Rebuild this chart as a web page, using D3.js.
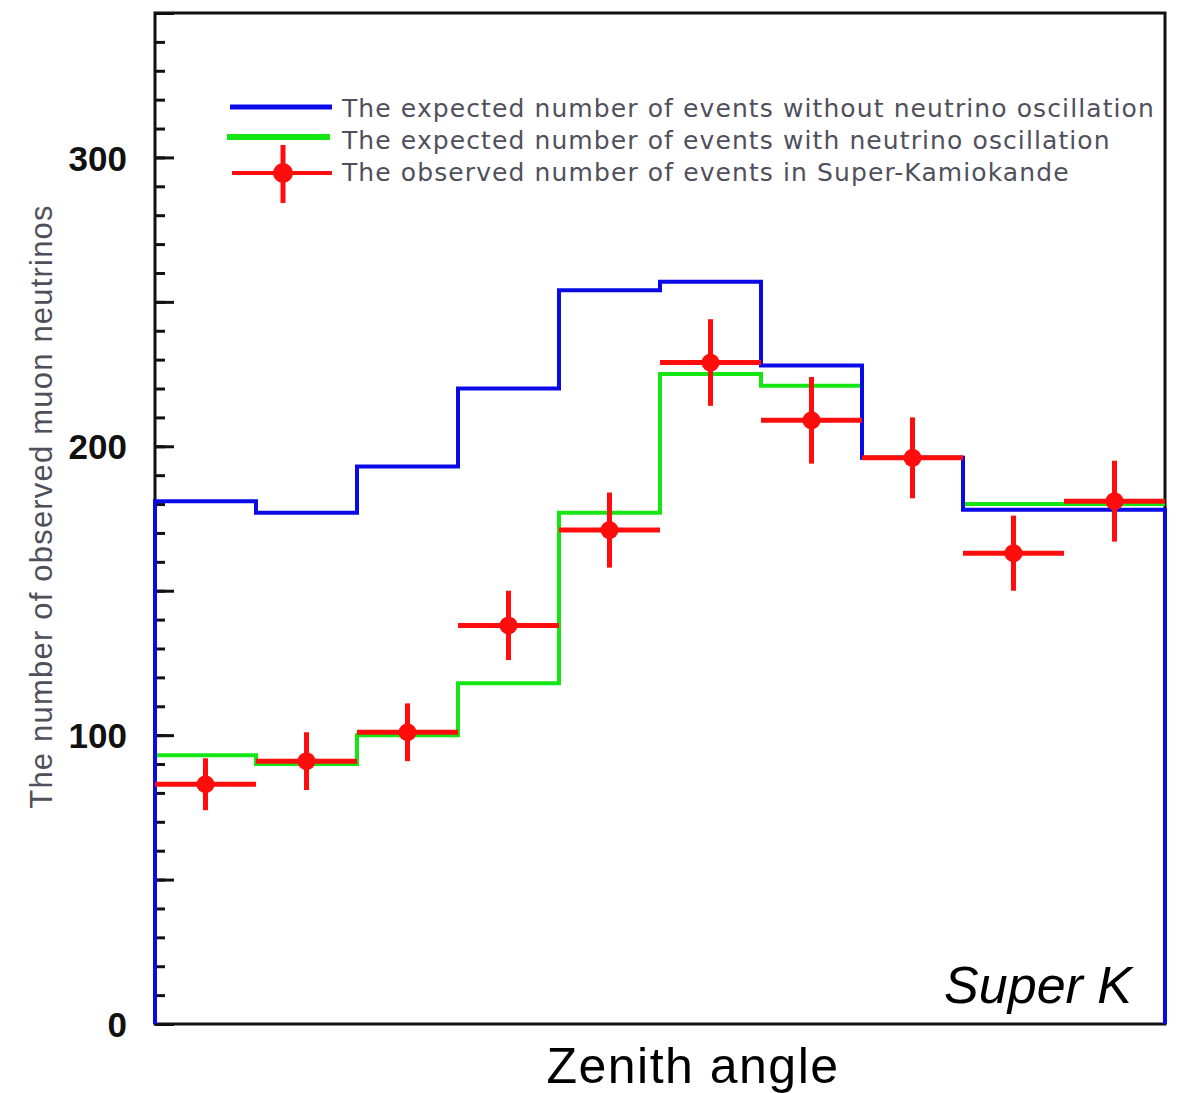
<!DOCTYPE html>
<html lang="en">
<head>
<meta charset="utf-8">
<title>Super-Kamiokande zenith angle</title>
<style type="text/css">
	body { margin: 0; background-color: white; }
	svg { display: block; }
	.ylabels text { font-family: "Liberation Sans", Arial, sans-serif; font-weight: bold; font-size: 35px; fill: #111; }
	.legend text { font-family: "DejaVu Sans", Verdana, sans-serif; font-size: 25px; letter-spacing: 1.1px; fill: #50505c; }
	.ytitle { font-family: "Liberation Sans", Arial, sans-serif; font-size: 31px; letter-spacing: 1.2px; fill: #50505c; }
	.xtitle { font-family: "Liberation Sans", Arial, sans-serif; font-size: 50px; letter-spacing: 1.5px; fill: black; }
	.tag { font-family: "Liberation Sans", Arial, sans-serif; font-style: italic; font-size: 52px; fill: black; }
</style>
</head>
<body>
<script src="https://cdnjs.cloudflare.com/ajax/libs/d3/7.8.5/d3.min.js"></script>
<script type="text/javascript">

	// bin edges in cos(zenith), 10 bins
	var binEdges = [-1, -0.8, -0.6, -0.4, -0.2, 0, 0.2, 0.4, 0.6, 0.8, 1];
	// expected without oscillation (blue)
	var noOsc = [181, 177, 193, 220, 254, 257, 228, 196, 178, 178];
	// expected with oscillation (green)
	var withOsc = [93, 90, 100, 118, 177, 225, 221, 196, 180, 180];
	// observed (red) and errors
	var observed = [83, 91, 101, 138, 171, 229, 209, 196, 163, 181];
	var obsErr = [9, 10, 10, 12, 13, 15, 15, 14, 13, 14];

	var legendLabels = [
		"The expected number of events without neutrino oscillation",
		"The expected number of events with neutrino oscillation",
		"The observed number of events in Super-Kamiokande"
	];
	var yLabelTicks = [0, 100, 200, 300];

	var fullwidth = 1182;
	var fullheight = 1093;
	var margin = { top: 13, right: 17, bottom: 69, left: 155 };
	var width = fullwidth - margin.left - margin.right;
	var height = fullheight - margin.top - margin.bottom;

	var svg = d3.select("body")
		.append("svg")
		.attr("width", fullwidth)
		.attr("height", fullheight)
		.append("g")
		.attr("transform", "translate(" + margin.left + "," + margin.top + ")");

	var xScale = d3.scaleLinear().domain([-1, 1]).range([0, width]);
	var yScale = d3.scaleLinear().domain([0, 350]).range([height, 0]);

	// minor and major ticks pointing inward
	svg.append("g")
		.attr("class", "minor")
		.call(d3.axisLeft(yScale).tickValues(d3.range(0, 351, 10)).tickSize(-10).tickFormat(""))
		.call(function(g) { g.select(".domain").remove(); })
		.selectAll("line").attr("stroke", "#111").attr("stroke-width", 3);

	svg.append("g")
		.attr("class", "major")
		.call(d3.axisLeft(yScale).tickValues(d3.range(0, 351, 50)).tickSize(-19).tickFormat(""))
		.call(function(g) { g.select(".domain").remove(); })
		.selectAll("line").attr("stroke", "#111").attr("stroke-width", 3);

	svg.append("g")
		.attr("class", "ylabels")
		.call(d3.axisLeft(yScale).tickValues(yLabelTicks).tickSize(0).tickPadding(28))
		.call(function(g) { g.select(".domain").remove(); })
		.selectAll("text").attr("dy", "0.36em");

	// frame
	svg.append("rect")
		.attr("x", 0).attr("y", 0)
		.attr("width", width).attr("height", height)
		.attr("fill", "none")
		.attr("stroke", "#111")
		.attr("stroke-width", 3);

	var stepLine = d3.line()
		.x(function(d) { return xScale(d[0]); })
		.y(function(d) { return yScale(d[1]); })
		.curve(d3.curveStepAfter);

	function stepPoints(vals, closed) {
		var pts = vals.map(function(v, i) { return [binEdges[i], v]; });
		pts.push([binEdges[binEdges.length - 1], vals[vals.length - 1]]);
		if (closed) {
			pts.unshift([binEdges[0], 0]);
			pts.push([binEdges[binEdges.length - 1], 0]);
		}
		return pts;
	}

	svg.append("path")
		.datum(stepPoints(withOsc, false))
		.attr("d", stepLine)
		.attr("fill", "none")
		.attr("stroke", "#14e614")
		.attr("stroke-width", 4);

	svg.append("path")
		.datum(stepPoints(noOsc, true))
		.attr("d", stepLine)
		.attr("fill", "none")
		.attr("stroke", "#0a0ae6")
		.attr("stroke-width", 4);

	// observed points with error bars
	var obs = svg.selectAll("g.obs")
		.data(observed)
		.enter()
		.append("g")
		.attr("class", "obs");

	obs.append("line")
		.attr("x1", function(d, i) { return xScale(binEdges[i]); })
		.attr("x2", function(d, i) { return xScale(binEdges[i + 1]); })
		.attr("y1", function(d) { return yScale(d); })
		.attr("y2", function(d) { return yScale(d); })
		.attr("stroke", "#ff0d0d")
		.attr("stroke-width", 5);

	obs.append("line")
		.attr("x1", function(d, i) { return xScale((binEdges[i] + binEdges[i + 1]) / 2); })
		.attr("x2", function(d, i) { return xScale((binEdges[i] + binEdges[i + 1]) / 2); })
		.attr("y1", function(d, i) { return yScale(d - obsErr[i]); })
		.attr("y2", function(d, i) { return yScale(d + obsErr[i]); })
		.attr("stroke", "#ff0d0d")
		.attr("stroke-width", 5);

	obs.append("circle")
		.attr("cx", function(d, i) { return xScale((binEdges[i] + binEdges[i + 1]) / 2); })
		.attr("cy", function(d) { return yScale(d); })
		.attr("r", 9)
		.attr("fill", "#ff0d0d");

	// legend
	var legend = svg.append("g")
		.attr("class", "legend")
		.attr("transform", "translate(75,94)");

	legend.append("line")
		.attr("x1", 0).attr("x2", 102).attr("y1", 0).attr("y2", 0)
		.attr("stroke", "#0a0ae6").attr("stroke-width", 5);
	legend.append("line")
		.attr("x1", -3).attr("x2", 100).attr("y1", 30).attr("y2", 30)
		.attr("stroke", "#14e614").attr("stroke-width", 6);
	legend.append("line")
		.attr("x1", 2).attr("x2", 102).attr("y1", 66).attr("y2", 66)
		.attr("stroke", "#ff0d0d").attr("stroke-width", 4);
	legend.append("line")
		.attr("x1", 53).attr("x2", 53).attr("y1", 38).attr("y2", 96)
		.attr("stroke", "#ff0d0d").attr("stroke-width", 5);
	legend.append("circle")
		.attr("cx", 53).attr("cy", 66).attr("r", 10)
		.attr("fill", "#ff0d0d");

	legend.selectAll("text")
		.data(legendLabels)
		.enter()
		.append("text")
		.attr("x", 112)
		.attr("y", function(d, i) { return i * 32 + 10; })
		.text(function(d) { return d; });

	// titles
	svg.append("text")
		.attr("class", "ytitle")
		.attr("transform", "translate(-103," + (height / 2 - 12) + ") rotate(-90)")
		.style("text-anchor", "middle")
		.text("The number of observed muon neutrinos");

	svg.append("text")
		.attr("class", "tag")
		.attr("x", width - 33)
		.attr("y", height - 21)
		.style("text-anchor", "end")
		.text("Super K");

	svg.append("text")
		.attr("class", "xtitle")
		.attr("x", 538)
		.attr("y", height + 59)
		.style("text-anchor", "middle")
		.text("Zenith angle");

</script>
</body>
</html>
